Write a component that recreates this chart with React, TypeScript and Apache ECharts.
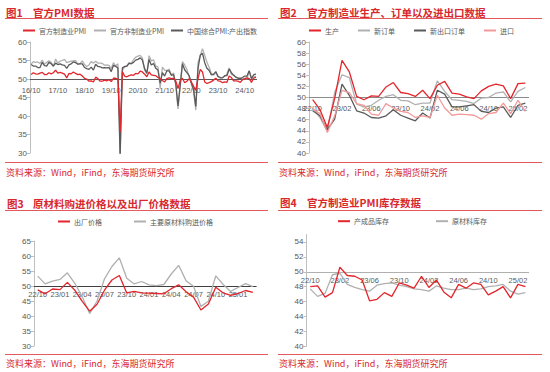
import React, { useEffect, useRef } from "react";
import * as echarts from "echarts";

function months(y0: number, m0: number, n: number): string[] {
  const out: string[] = [];
  let y = y0;
  let m = m0;
  for (let i = 0; i < n; i++) {
    out.push(String(y % 100).padStart(2, "0") + "/" + String(m).padStart(2, "0"));
    m++;
    if (m > 12) { m = 1; y++; }
  }
  return out;
}

// ---- categories ----
const cat1 = months(2016, 10, 102);
const cat2 = months(2022, 10, 30);

// ---- 图1 官方PMI数据 (2016/10 - 2025/03) ----
const mfgPMI = [
  51.2, 51.7, 51.4,
  51.3, 51.6, 51.8, 51.2, 51.2, 51.7, 51.4, 51.7, 52.4, 51.6, 51.8, 51.6,
  51.3, 50.3, 51.5, 51.4, 51.9, 51.5, 51.2, 51.3, 50.8, 50.2, 50.0, 49.4,
  49.5, 49.2, 50.5, 50.1, 49.4, 49.4, 49.7, 49.5, 49.8, 49.3, 50.2, 50.2,
  50.0, 35.7, 52.0, 50.8, 50.6, 50.9, 51.1, 51.0, 51.5, 51.4, 52.1, 51.9,
  51.3, 50.6, 51.9, 51.1, 51.0, 50.9, 50.4, 50.1, 49.6, 49.2, 50.1, 50.3,
  50.1, 50.2, 49.5, 47.4, 49.6, 50.2, 49.0, 49.4, 50.1, 49.2, 48.0, 47.0,
  50.1, 52.6, 51.9, 49.2, 48.8, 49.0, 49.3, 49.7, 50.2, 49.5, 49.4, 49.0,
  49.2, 49.1, 50.8, 50.4, 49.5, 49.5, 49.4, 49.1, 49.8, 50.1, 50.3, 50.1,
  49.1, 50.2, 50.5,
];
const nonMfgPMI = [
  54.0, 54.7, 54.5,
  54.6, 54.2, 55.1, 54.0, 54.5, 54.9, 54.5, 53.4, 55.4, 54.3, 54.8, 55.0,
  55.3, 54.4, 54.6, 54.8, 54.9, 55.0, 54.0, 54.2, 54.9, 53.9, 53.4, 53.8,
  54.7, 54.3, 54.8, 54.3, 54.3, 54.2, 53.7, 53.8, 53.7, 52.8, 54.4, 53.5,
  54.1, 29.6, 52.3, 53.2, 53.6, 54.4, 54.2, 55.2, 55.9, 56.2, 56.4, 55.7,
  52.4, 51.4, 56.3, 54.9, 55.2, 53.5, 53.3, 47.5, 53.2, 52.4, 52.3, 52.7,
  51.1, 51.6, 48.4, 41.9, 47.8, 54.7, 53.8, 52.6, 50.6, 48.7, 46.7, 41.6,
  54.4, 56.3, 58.2, 56.4, 54.5, 53.2, 51.5, 51.0, 51.7, 50.6, 50.2, 50.4,
  50.7, 51.4, 53.0, 51.2, 51.1, 50.5, 50.2, 50.3, 50.0, 50.2, 50.0, 52.2,
  50.2, 50.4, 50.8,
];
const compositeOutput = [
  53.9, 53.5, 53.5,
  53.1, 53.1, 54.5, 53.6, 53.5, 54.5, 54.1, 53.5, 54.3, 53.9, 54.1, 53.8,
  53.7, 52.9, 53.8, 54.1, 54.6, 54.4, 54.0, 54.1, 54.1, 53.1, 52.8, 52.6,
  53.2, 52.4, 54.0, 53.4, 53.3, 53.0, 53.1, 53.0, 53.1, 52.0, 53.7, 53.4,
  53.0, 28.9, 53.0, 53.4, 53.4, 54.2, 54.1, 54.5, 55.1, 55.3, 55.7, 55.1,
  52.8, 51.6, 55.3, 53.8, 54.2, 52.9, 52.4, 48.9, 51.7, 50.8, 52.2, 52.2,
  51.0, 51.2, 48.8, 42.7, 48.4, 54.1, 52.5, 51.7, 50.9, 49.0, 47.1, 42.6,
  52.9, 56.4, 57.0, 54.4, 52.9, 52.3, 51.1, 51.3, 52.0, 50.7, 50.4, 50.3,
  50.9, 50.9, 52.7, 51.7, 51.0, 50.5, 50.2, 50.1, 50.4, 50.8, 50.8, 52.2,
  50.1, 51.1, 51.4,
];

// ---- 图2 (2022/10 - 2025/03) ----
const production = [
  49.6, 47.8, 44.6, 49.8, 56.7, 54.6, 50.2, 49.6, 50.3, 50.2, 51.9, 52.7, 50.9, 50.7, 50.2,
  51.3, 49.8, 52.2, 52.9, 50.8, 50.6, 50.1, 49.8, 51.2, 52.0, 52.4, 52.1, 49.8, 52.5, 52.6,
];
const newOrders = [
  48.1, 46.4, 43.9, 50.9, 54.1, 53.6, 48.8, 48.3, 48.6, 49.5, 50.2, 50.5, 49.5, 49.4, 48.7,
  49.0, 49.0, 53.0, 51.1, 49.6, 49.5, 49.3, 48.9, 49.9, 50.0, 50.8, 51.0, 49.2, 51.1, 51.8,
];
const newExportOrders = [
  47.6, 46.7, 44.2, 46.1, 52.4, 50.4, 47.6, 47.2, 46.4, 46.3, 46.7, 47.8, 46.8, 46.3, 45.8,
  47.2, 46.3, 51.3, 50.6, 48.3, 48.3, 48.5, 48.7, 47.5, 47.3, 48.1, 48.3, 46.4, 48.6, 49.0,
];
const imports = [
  47.9, 47.1, 43.7, 46.7, 51.3, 50.9, 48.9, 48.6, 47.0, 46.8, 48.9, 48.1, 47.5, 47.3, 46.4,
  46.7, 46.4, 50.4, 48.1, 46.8, 47.0, 46.9, 46.8, 46.1, 47.1, 47.3, 49.0, 47.1, 49.5, 47.5,
];

// ---- 图3 ----
const outputPrice = [
  48.7, 47.4, 49.0, 48.8, 51.2, 48.6, 44.9, 41.6, 43.9, 48.6, 52.0, 53.5, 47.7, 48.2, 47.7,
  47.6, 47.5, 47.4, 49.1, 50.4, 48.1, 46.3, 42.0, 44.0, 49.6, 47.7, 46.9, 47.5, 48.5, 47.9,
];
const inputPrice = [
  53.3, 50.7, 51.6, 52.2, 54.4, 50.9, 46.4, 40.8, 45.0, 52.4, 56.5, 59.4, 52.6, 50.7, 51.5,
  50.4, 50.1, 50.5, 54.0, 56.9, 51.7, 49.9, 43.2, 44.9, 53.4, 50.5, 48.2, 49.5, 50.8, 49.8,
];

// ---- 图4 ----
const finishedInv = [
  48.0, 48.1, 46.6, 47.2, 50.6, 49.5, 49.4, 48.9, 46.1, 46.3, 47.2, 46.7, 48.5, 48.2, 47.8,
  49.4, 47.9, 48.9, 47.3, 46.5, 48.3, 47.8, 48.5, 48.3, 46.9, 47.4, 48.0, 46.5, 48.3, 48.0,
];
const rawInv = [
  47.7, 46.7, 47.1, 49.6, 49.8, 48.3, 47.9, 47.6, 47.4, 48.2, 48.4, 48.5, 48.2, 48.0, 47.7,
  47.6, 47.4, 48.1, 47.8, 47.6, 47.6, 47.8, 47.6, 47.7, 48.0, 48.1, 48.3, 47.4, 47.0, 47.2,
];

const RED = "#e2262c";
const TRED = "#d8282e";
const LGRAY = "#b0b0b0";
const DGRAY = "#5a5a5a";
const PINK = "#f29a9a";
const FONT = "'Noto Sans CJK SC', 'Noto Sans', sans-serif";
const AXFONT = "'Liberation Sans', 'Noto Sans', sans-serif";
const SOURCE = "资料来源：Wind，iFind，东海期货研究所";

export default function App() {
  const ref = useRef<HTMLDivElement>(null);
  useEffect(() => {
    if (!ref.current) return;
    const chart = echarts.init(ref.current, null, { renderer: "svg" });

    const grids = [
      { left: 30, top: 42, width: 227, height: 111 },
      { left: 309, top: 42, width: 220, height: 111 },
      { left: 34, top: 241, width: 222.6, height: 105 },
      { left: 306.5, top: 234.5, width: 222.6, height: 111.8 },
    ];
    const yCfg = [
      { min: 30, max: 60, interval: 5 },
      { min: 40, max: 60, interval: 2 },
      { min: 30, max: 65, interval: 5 },
      { min: 40, max: 55, interval: 2 },
    ];
    const labelTop = [86, 104, 290.3, 276.3];
    const labelInt = [11, 3, 2, 3];
    const cats = [cat1, cat2, cat2, cat2];
    const refColor = [DGRAY, "#8a8a8a", "#404040", LGRAY];

    const xAxis = grids.map((g, i) => ({
      type: "category",
      gridIndex: i,
      data: cats[i],
      boundaryGap: true,
      axisLine: { show: false },
      axisTick: { show: false },
      axisLabel: {
        interval: labelInt[i],
        fontSize: 7.5,
        color: "#595959",
        fontFamily: AXFONT,
        margin: labelTop[i] - (g.top + g.height),
      },
    }));
    const yAxis = yCfg.map((c, i) => ({
      type: "value",
      gridIndex: i,
      min: c.min,
      max: c.max,
      interval: c.interval,
      splitLine: { show: false },
      axisLine: { show: true, lineStyle: { color: "#bfbfbf", width: 1 } },
      axisTick: { show: true, length: 3, lineStyle: { color: "#bfbfbf" } },
      axisLabel: {
        fontSize: 8,
        color: "#595959",
        fontFamily: AXFONT,
        margin: 3,
        showMaxLabel: i === 3 ? false : true,
      },
    }));

    const mk = (name: string, data: number[], idx: number, color: string, withRef: boolean) => ({
      name,
      type: "line",
      xAxisIndex: idx,
      yAxisIndex: idx,
      data,
      symbol: "none",
      lineStyle: { color, width: 1.3 },
      itemStyle: { color },
      z: color === RED ? 5 : 3,
      markLine: withRef
        ? {
            silent: true,
            symbol: "none",
            label: { show: false },
            lineStyle: { color: refColor[idx], width: 1, type: "solid" },
            data: [{ yAxis: 50 }],
            z: 2,
          }
        : undefined,
    });

    const series = [
      mk("官方制造业PMI", mfgPMI, 0, RED, true),
      mk("官方非制造业PMI", nonMfgPMI, 0, LGRAY, false),
      mk("中国综合PMI:产出指数", compositeOutput, 0, DGRAY, false),
      mk("生产", production, 1, RED, true),
      mk("新订单", newOrders, 1, LGRAY, false),
      mk("新出口订单", newExportOrders, 1, DGRAY, false),
      mk("进口", imports, 1, PINK, false),
      mk("出厂价格", outputPrice, 2, RED, true),
      mk("主要原材料购进价格", inputPrice, 2, LGRAY, false),
      mk("产成品库存", finishedInv, 3, RED, true),
      mk("原材料库存", rawInv, 3, LGRAY, false),
    ];

    const legendItems: [string, number, number][] = [
      ["官方制造业PMI", 23, 31],
      ["官方非制造业PMI", 94, 31],
      ["中国综合PMI:产出指数", 171, 31],
      ["生产", 309, 31],
      ["新订单", 358, 31],
      ["新出口订单", 414, 31],
      ["进口", 484, 31],
      ["出厂价格", 58, 222],
      ["主要原材料购进价格", 134, 222],
      ["产成品库存", 338, 221.7],
      ["原材料库存", 436, 221.7],
    ];
    const legend = legendItems.map(([name, x, y]) => ({
      data: [name],
      left: x,
      top: y - 4,
      padding: 0,
      icon: "rect",
      itemWidth: 12,
      itemHeight: 2,
      selectedMode: false,
      textStyle: { fontSize: 7, color: "#595959", fontFamily: FONT, padding: [0, 0, 0, -1] },
    }));

    const titles: [string, string, number, number, number][] = [
      ["图1", "官方PMI数据", 6, 33, 12],
      ["图2", "官方制造业生产、订单以及进出口数据", 280, 307, 12],
      ["图3", "原材料购进价格以及出厂价格数据", 7, 33, 203],
      ["图4", "官方制造业PMI库存数据", 280, 307, 202.5],
    ];
    const lines: [number, number, number][] = [
      [5, 268, 18.5], [278, 542, 18.5], [5, 268, 210.5], [278, 542, 210.5],
      [5, 268, 162.5], [278, 542, 162.5], [5, 268, 354.5], [278, 542, 354.5],
    ];
    const footers: [number, number][] = [[6, 172.5], [279, 172.5], [6, 363], [279, 363]];

    const graphic: any[] = [];
    titles.forEach(([a, b, x1, x2, y]) => {
      graphic.push({
        type: "text", x: x1, y, style: { text: a, fill: TRED, font: `bold 10.5px ${FONT}`, verticalAlign: "middle" },
      });
      graphic.push({
        type: "text", x: x2, y, style: { text: b, fill: TRED, font: `bold 10.5px ${FONT}`, verticalAlign: "middle" },
      });
    });
    lines.forEach(([x1, x2, y]) => {
      graphic.push({ type: "line", shape: { x1, y1: y, x2, y2: y }, style: { stroke: "#e35a5e", lineWidth: 1 } });
    });
    footers.forEach(([x, y]) => {
      graphic.push({
        type: "text", x, y, style: { text: SOURCE, fill: TRED, font: `9px ${FONT}`, verticalAlign: "middle" },
      });
    });

    chart.setOption({
      animation: false,
      backgroundColor: "#ffffff",
      grid: grids,
      xAxis,
      yAxis,
      legend,
      series,
      graphic,
    });
    return () => chart.dispose();
  }, []);
  return <div ref={ref} style={{ position: "absolute", left: 0, top: 0, width: 550, height: 372 }} />;
}
